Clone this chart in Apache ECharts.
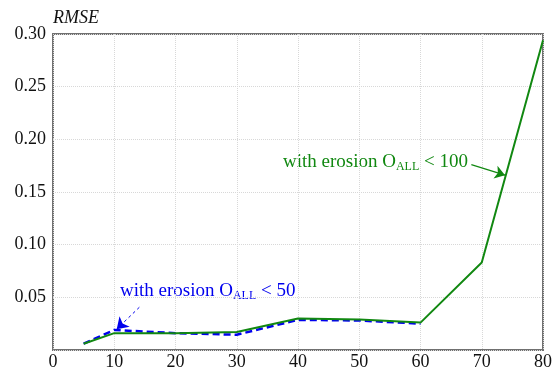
<!DOCTYPE html>
<html><head><meta charset="utf-8">
<script src="https://cdn.jsdelivr.net/npm/echarts@6/dist/echarts.min.js"></script>
<style>html,body{margin:0;padding:0;background:#fff}#c{width:555px;height:371px}</style>
</head><body><div id="c"></div>
<script>
const xValues = [5, 10, 20, 30, 40, 50, 60, 70, 80];
const rmse100 = [0.006, 0.016, 0.016, 0.017, 0.030, 0.029, 0.026, 0.083, 0.294];
const xValues50 = [5, 10, 20, 30, 40, 50, 60];
const rmse50 = [0.006, 0.019, 0.016, 0.0145, 0.0286, 0.028, 0.025];
const yTicks = [0.05, 0.10, 0.15, 0.20, 0.25, 0.30];
const arrow100 = [[68.3, 0.176], [73.8, 0.166]];
const arrow50 = [[14.1, 0.0406], [10.4, 0.0198]];

const font = 'Liberation Serif';
const chart = echarts.init(document.getElementById('c'));
chart.setOption({
  animation: false,
  grid: {left: 53, right: 9, top: 34, bottom: 19, show: true, borderColor: '#707070', borderWidth: 2},
  xAxis: {type: 'value', min: 0, max: 80, interval: 10,
    axisLine: {show: false}, axisTick: {show: false},
    splitLine: {lineStyle: {color: '#d8d8d8', type: 'dotted'}},
    axisLabel: {fontFamily: font, fontSize: 18, color: '#111', margin: 3}},
  yAxis: {type: 'value', min: 0, max: 0.30, interval: 0.05,
    name: 'RMSE', nameLocation: 'end', nameGap: 7,
    nameTextStyle: {fontFamily: font, fontSize: 18, fontStyle: 'italic', color: '#111', align: 'left', padding: [0,0,0,0]},
    axisLine: {show: false}, axisTick: {show: false},
    splitLine: {lineStyle: {color: '#d8d8d8', type: 'dotted'}},
    axisLabel: {fontFamily: font, fontSize: 18, color: '#111', margin: 7,
      formatter: v => yTicks.some(t => Math.abs(t - v) < 1e-9) ? v.toFixed(2) : ''}},
  series: [
    {type: 'line', data: xValues.map((x, i) => [x, rmse100[i]]), symbol: 'none',
      lineStyle: {color: '#118811', width: 2}, z: 3,
      markLine: {silent: true, symbol: ['none', 'arrow'], symbolSize: 10,
        lineStyle: {color: '#118811', width: 1.2, type: 'solid'}, label: {show: false},
        data: [[{coord: arrow100[0]}, {coord: arrow100[1]}]]}},
    {type: 'line', data: xValues50.map((x, i) => [x, rmse50[i]]), symbol: 'none',
      lineStyle: {color: '#0000ee', width: 2.5, type: [7, 4]}, z: 2,
      markLine: {silent: true, symbol: ['none', 'arrow'], symbolSize: 11,
        lineStyle: {color: '#0000ee', width: 1, type: [3, 3]}, label: {show: false},
        data: [[{coord: arrow50[0]}, {coord: arrow50[1]}]]}}
  ],
  graphic: [
    {type: 'text', left: 283, top: 153, style: {text: 'with erosion O{s|ALL} < 100', fill: '#118811',
      font: '19px "Liberation Serif"', rich: {s: {fontSize: 12, fill: '#118811', fontFamily: font, padding: [9,0,0,0]}}}},
    {type: 'text', left: 120, top: 282, style: {text: 'with erosion O{s|ALL} < 50', fill: '#0000ee',
      font: '19px "Liberation Serif"', rich: {s: {fontSize: 12, fill: '#0000ee', fontFamily: font, padding: [9,0,0,0]}}}}
  ]
});
</script></body></html>
